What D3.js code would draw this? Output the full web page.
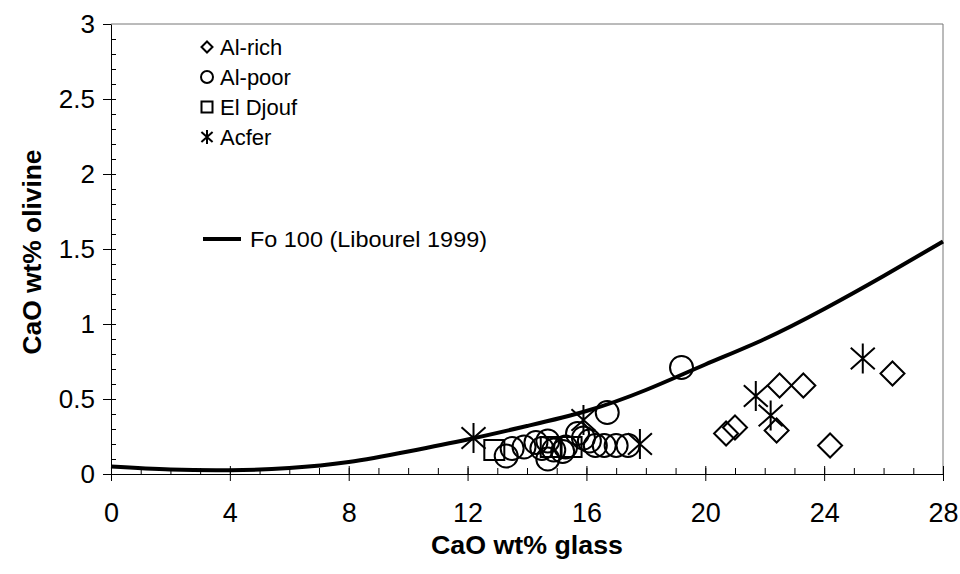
<!DOCTYPE html>
<html>
<head>
<meta charset="utf-8">
<script src="https://cdn.jsdelivr.net/npm/d3@7"></script>
<style>
  body { margin: 0; background: #fff; }
  svg { display: block; font-family: "Liberation Sans", Arial, sans-serif; }
</style>
</head>
<body>
<svg width="960" height="574"></svg>
<script>
"use strict";

// Al-rich (diamonds)
var alRichX = [20.7, 21.0, 22.4, 22.5, 23.3, 24.2, 26.3],
    alRichY = [0.27, 0.31, 0.29, 0.59, 0.59, 0.19, 0.67];

// Al-poor (circles)
var alPoorX = [13.3, 13.5, 13.9, 14.3, 14.5, 14.7, 14.7, 14.9, 15.2, 15.3, 15.7, 15.9, 16.1, 16.3, 16.6, 16.7, 17.0, 17.4, 19.2],
    alPoorY = [0.12, 0.17, 0.18, 0.21, 0.17, 0.10, 0.22, 0.16, 0.15, 0.18, 0.27, 0.24, 0.22, 0.19, 0.19, 0.41, 0.19, 0.19, 0.71];

// El Djouf (squares)
var djoufX = [12.9, 14.8, 15.5],
    djoufY = [0.16, 0.18, 0.18];

// Acfer (asterisks)
var acferX = [12.2, 15.9, 17.8, 21.7, 22.2, 25.3],
    acferY = [0.24, 0.36, 0.20, 0.52, 0.39, 0.77];

// Fo 100 curve (Libourel 1999)
var curveX = [0, 2, 4, 6, 8, 10, 12, 14, 16, 18, 20, 22, 24, 26, 28],
    curveY = [0.05, 0.03, 0.025, 0.04, 0.08, 0.15, 0.23, 0.32, 0.42, 0.56, 0.73, 0.90, 1.10, 1.32, 1.55];

var xTicks = [0, 4, 8, 12, 16, 20, 24, 28],
    yTicks = [0, 0.5, 1, 1.5, 2, 2.5, 3];

var legendLabels = ["Al-rich", "Al-poor", "El Djouf", "Acfer"];

var svg = d3.select("svg");

var x = d3.scaleLinear().domain([0, 28]).range([111, 943]);
var y = d3.scaleLinear().domain([0, 3]).range([474, 24]);

// frame (top and right)
svg.append("path")
    .attr("d", "M" + x(0) + "," + y(3) + "H" + x(28) + "V" + y(0))
    .attr("fill", "none")
    .attr("stroke", "#777")
    .attr("stroke-width", 1);

// x axis: minor ticks inside, major ticks crossing
svg.append("g")
    .attr("transform", "translate(0," + y(0) + ")")
    .call(d3.axisTop(x).tickValues(d3.range(0, 29, 1)).tickSize(6).tickFormat(""))
    .call(g => g.select(".domain").remove());
var xAxis = svg.append("g")
    .attr("transform", "translate(0," + y(0) + ")")
    .call(d3.axisBottom(x).tickValues(xTicks).tickSize(7).tickSizeOuter(0).tickPadding(22));
xAxis.selectAll(".tick line").attr("y1", -8);
xAxis.selectAll("text")
    .style("font-family", "'Liberation Sans Narrow', 'Liberation Sans', sans-serif")
    .attr("font-size", 27)
    .attr("fill", "#000");

// y axis: minor ticks inside, major outside
svg.append("g")
    .attr("transform", "translate(" + x(0) + ",0)")
    .call(d3.axisRight(y).tickValues(d3.range(0, 30, 1).map(d => d / 10)).tickSize(5).tickFormat(""))
    .call(g => g.select(".domain").remove());
var yAxis = svg.append("g")
    .attr("transform", "translate(" + x(0) + ",0)")
    .call(d3.axisLeft(y).tickValues(yTicks).tickSize(8).tickSizeOuter(0).tickPadding(8).tickFormat(d3.format("")));
yAxis.selectAll("text").attr("font-size", 26).attr("fill", "#000");

svg.selectAll(".tick line").attr("stroke", "#000");
svg.selectAll(".domain").attr("stroke", "#000");

// axis titles
svg.append("text")
    .attr("x", 527).attr("y", 554)
    .attr("text-anchor", "middle")
    .attr("font-size", 25).attr("font-weight", "bold")
    .attr("textLength", 192).attr("lengthAdjust", "spacingAndGlyphs")
    .text("CaO wt% glass");
svg.append("text")
    .attr("transform", "translate(41,252) rotate(-90)")
    .attr("text-anchor", "middle")
    .attr("font-size", 26).attr("font-weight", "bold")
    .attr("textLength", 205).attr("lengthAdjust", "spacingAndGlyphs")
    .text("CaO wt% olivine");

// Fo 100 curve
var line = d3.line()
    .x((d, i) => x(curveX[i]))
    .y((d, i) => y(curveY[i]))
    .curve(d3.curveNatural);
svg.append("path")
    .datum(curveX)
    .attr("d", line)
    .attr("fill", "none")
    .attr("stroke", "#000")
    .attr("stroke-width", 4);

// marker shapes
function diamond(s) { return "M0," + (-s) + "L" + s + ",0L0," + s + "L" + (-s) + ",0Z"; }
function square(s) { return "M" + (-s) + "," + (-s) + "H" + s + "V" + s + "H" + (-s) + "Z"; }
function star(s) {
  var d = s * 0.8;
  return "M0," + (-s) + "V" + s + "M" + (-d) + "," + (-d * 0.9) + "L" + d + "," + (d * 0.9) +
         "M" + (-d) + "," + (d * 0.9) + "L" + d + "," + (-d * 0.9);
}

var pts = svg.append("g").attr("fill", "none").attr("stroke", "#000").attr("stroke-width", 2);

pts.selectAll("circle.alpoor")
    .data(alPoorX)
    .enter().append("circle")
    .attr("class", "alpoor")
    .attr("cx", d => x(d))
    .attr("cy", (d, i) => y(alPoorY[i]))
    .attr("r", 11.5);

pts.selectAll("path.djouf")
    .data(djoufX)
    .enter().append("path")
    .attr("class", "djouf")
    .attr("transform", (d, i) => "translate(" + x(d) + "," + y(djoufY[i]) + ")")
    .attr("d", square(10));

pts.selectAll("path.alrich")
    .data(alRichX)
    .enter().append("path")
    .attr("class", "alrich")
    .attr("transform", (d, i) => "translate(" + x(d) + "," + y(alRichY[i]) + ")")
    .attr("d", diamond(12));

pts.selectAll("path.acfer")
    .data(acferX)
    .enter().append("path")
    .attr("class", "acfer")
    .attr("transform", (d, i) => "translate(" + x(d) + "," + y(acferY[i]) + ")")
    .attr("d", star(15));

// legend
var shapes = [diamond(5.5), null, square(5.5), star(7)];
var leg = svg.append("g");
legendLabels.forEach(function(label, i) {
  var ly = 47 + i * 30;
  if (i === 1) {
    leg.append("circle").attr("cx", 207).attr("cy", ly).attr("r", 6)
      .attr("fill", "none").attr("stroke", "#000").attr("stroke-width", 2);
  } else {
    leg.append("path").attr("transform", "translate(207," + ly + ")").attr("d", shapes[i])
      .attr("fill", "none").attr("stroke", "#000").attr("stroke-width", 2);
  }
  leg.append("text").attr("x", 220).attr("y", ly + 8)
    .attr("font-size", 22).text(label);
});
leg.append("line")
  .attr("x1", 203).attr("x2", 241).attr("y1", 239).attr("y2", 239)
  .attr("stroke", "#000").attr("stroke-width", 4);
leg.append("text").attr("x", 250).attr("y", 247)
  .attr("font-size", 22).attr("textLength", 237).attr("lengthAdjust", "spacingAndGlyphs")
  .text("Fo 100 (Libourel 1999)");
</script>
</body>
</html>
